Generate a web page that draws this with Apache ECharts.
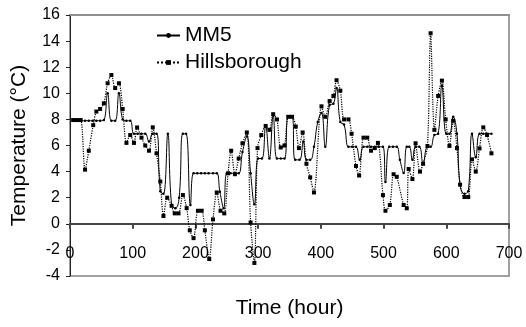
<!DOCTYPE html>
<html><head><meta charset="utf-8">
<script src="https://cdn.jsdelivr.net/npm/echarts@6/dist/echarts.min.js"></script>
<style>html,body{margin:0;padding:0;background:#fff}#c{width:526px;height:327px}</style>
</head><body><div id="c"></div>
<script>
// MM5 series (hour, temperature °C)
var mm5Hours = [5,11,17,24,30,36,42,48,54,60,66,72,78,84,90,96,102,108,114,120,126,132,138,144,149,156,162,168,174,180,185,192,197,203,209,215,221,228,234,239,245,250,256,263,269,275,282,288,294,300,306,312,318,324,330,336,342,348,354,359,366,372,377,383,389,395,401,407,414,420,425,431,437,444,450,456,462,468,474,480,486,492,499,503,509,515,521,526,532,537,541,546,551,557,563,570,575,581,587,593,600,605,611,617,622,629,635,641,647,653,659,666,672];
var mm5Temps = [7.9,7.9,7.9,7.9,7.9,7.9,7.9,7.9,7.95,10.0,7.9,7.9,10.0,8.0,7.9,7.9,6.9,6.9,6.9,6.9,6.3,6.9,6.9,2.5,2.3,6.9,1.45,1.2,2.0,6.9,6.9,1.45,3.87,3.87,3.87,3.87,3.87,3.87,3.87,2.46,1.2,3.87,3.87,3.87,3.87,5.5,6.7,3.87,1.5,5.0,5.0,7.5,5.0,8.3,5.0,5.0,5.0,8.2,8.2,4.9,4.9,6.3,4.9,4.9,5.9,7.8,8.5,5.9,9.1,9.2,10.4,7.8,7.6,5.9,5.9,5.9,4.9,5.9,5.9,5.9,5.9,5.9,5.9,3.2,5.9,5.9,5.9,4.9,3.9,5.9,5.9,4.9,5.9,5.9,4.6,5.9,5.9,6.8,6.9,10.6,6.9,6.9,8.2,6.9,3.0,2.3,2.5,6.9,5.1,6.9,6.9,6.9,6.9];
// Hillsborough series (hour, temperature °C)
var hilHours = [5,11,17,24,30,37,42,48,54,60,66,72,78,84,90,96,102,107,114,120,126,132,138,144,149,155,162,167,173,180,186,191,197,204,210,215,222,228,234,240,246,252,257,263,269,275,282,288,294,299,305,312,318,324,330,336,342,348,354,360,365,371,377,383,389,401,407,414,420,425,431,437,444,449,456,461,468,474,480,486,491,499,503,510,516,521,532,537,540,546,551,558,563,570,575,581,587,593,599,605,611,617,622,629,635,641,647,653,659,665,672];
var hilTemps = [7.95,7.95,7.95,4.15,5.6,7.56,8.6,8.8,9.23,10.77,11.4,10.4,10.77,8.8,6.2,6.8,6.2,7.38,6.6,6.0,5.6,7.39,5.4,3.24,0.6,2.0,1.38,0.8,0.8,2.2,1.2,-0.5,-1.1,1.0,1.0,-0.5,-2.7,0.34,2.4,1.0,0.8,3.87,5.6,3.8,5.0,6.17,7.0,0.1,-3.0,5.8,6.8,7.5,7.2,8.4,8.0,5.85,6.0,8.2,8.2,7.45,5.8,7.0,4.6,3.56,2.4,9.0,8.2,9.4,9.8,11.0,10.2,8.0,8.0,6.9,4.43,3.7,6.6,6.6,5.6,5.8,6.2,2.2,1.0,1.44,3.8,3.6,1.44,1.19,4.2,3.43,6.17,4.0,4.6,5.96,14.6,7.2,9.8,10.97,8.0,5.97,7.9,5.8,3.0,2.05,2.05,4.94,4.0,5.78,7.39,6.8,5.4];
// Axis ticks
var xTicks = [0,100,200,300,400,500,600,700];
var yTicks = [-4,-2,0,2,4,6,8,10,12,14,16];

function pairs(xs, ys){ var out=[]; for (var i=0;i<xs.length;i++) out.push([xs[i], ys[i]]); return out; }

var yMin = yTicks[0], yMax = yTicks[yTicks.length-1], xMax = xTicks[xTicks.length-1];

var FONT = '"Liberation Sans", Arial, sans-serif';
var chart = echarts.init(document.getElementById('c'), null, {renderer:'canvas'});
chart.setOption({
  animation:false,
  grid:{left:70, right:17, top:15, bottom:51, outerBoundsMode:'none',
        show:true, borderColor:'#a0a0a0', borderWidth:2},
  legend:{
    orient:'vertical', left:151, top:20, itemWidth:23, itemHeight:6, itemGap:6,
    textStyle:{fontFamily:FONT, fontSize:21, color:'#000'},
    data:['MM5','Hillsborough']
  },
  xAxis:[{
    type:'value', min:xTicks[0], max:xMax, interval:100,
    name:'Time (hour)', nameLocation:'middle', nameGap:22,
    nameTextStyle:{fontFamily:FONT, fontSize:21, color:'#000'},
    axisLine:{show:true, onZero:true, lineStyle:{color:'#444444', width:2}},
    axisTick:{show:true, length:5, inside:false, lineStyle:{color:'#444444', width:2}},
    axisLabel:{fontFamily:FONT, fontSize:16, color:'#000', margin:-30},
    splitLine:{show:false}
  }, {
    type:'value', position:'top', min:xTicks[0], max:xMax, interval:100,
    axisLine:{show:true, onZero:false, lineStyle:{color:'#909090', width:2}},
    axisTick:{show:false}, axisLabel:{show:false}, splitLine:{show:false}
  }],
  yAxis:[{
    type:'value', min:yMin, max:yMax, interval:2,
    name:'Temperature (\u00B0C)', nameLocation:'middle', nameGap:40, nameRotate:90,
    nameTextStyle:{fontFamily:FONT, fontSize:21, color:'#000'},
    axisLine:{show:true, lineStyle:{color:'#222', width:1}},
    axisTick:{show:true, length:4, lineStyle:{color:'#222'}},
    axisLabel:{fontFamily:FONT, fontSize:16, color:'#000', margin:10},
    splitLine:{show:false}
  }],
  series:[
    {
      name:'MM5', type:'line', data:pairs(mm5Hours, mm5Temps), smooth:0.45,
      symbol:'circle', symbolSize:2.5, showSymbol:true,
      lineStyle:{color:'#000', width:1}, itemStyle:{color:'#000'}
    },
    {
      name:'Hillsborough', type:'line', data:pairs(hilHours, hilTemps), smooth:0.3,
      symbol:'rect', symbolSize:4, showSymbol:true,
      lineStyle:{color:'#000', width:1.2, type:'dotted'}, itemStyle:{color:'#000'}
    }
  ]
});
</script></body></html>
